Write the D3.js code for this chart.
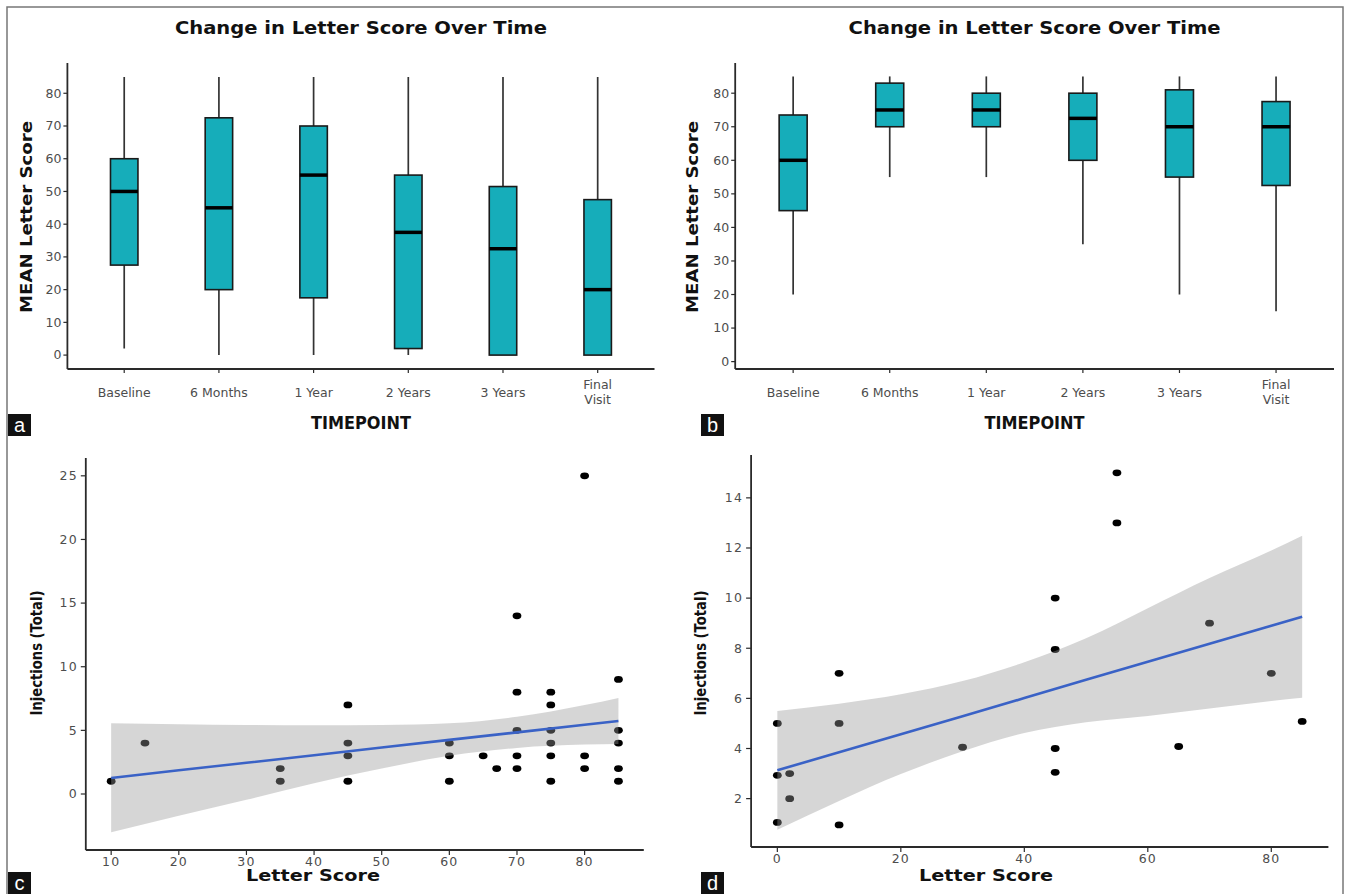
<!DOCTYPE html>
<html>
<head>
<meta charset="utf-8">
<script src="https://cdn.jsdelivr.net/npm/d3@7"></script>
<style>
  body { margin: 0; background: #fff; }
  svg { display: block; }
</style>
</head>
<body>
<div id="chart"></div>
<script>
// ---- data ----
var timepoints = ["Baseline", "6 Months", "1 Year", "2 Years", "3 Years", "Final Visit"];

// panel a
var aMin = [2, 0, 0, 0, 0, 0];
var aQ1  = [27.5, 20, 17.5, 2, 0, 0];
var aMed = [50, 45, 55, 37.5, 32.5, 20];
var aQ3  = [60, 72.5, 70, 55, 51.5, 47.5];
var aMax = [85, 85, 85, 85, 85, 85];

// panel b
var bMin = [20, 55, 55, 35, 20, 15];
var bQ1  = [45, 70, 70, 60, 55, 52.5];
var bMed = [60, 75, 75, 72.5, 70, 70];
var bQ3  = [73.5, 83, 80, 80, 81, 77.5];
var bMax = [85, 85, 85, 85, 85, 85];

// panel c
var cScore = [10, 15, 35, 35, 45, 45, 45, 45, 60, 60, 60, 65, 67, 70, 70, 70, 70, 70,
              75, 75, 75, 75, 75, 75, 80, 80, 80, 85, 85, 85, 85, 85];
var cInj   = [1, 4, 2, 1, 7, 4, 3, 1, 4, 3, 1, 3, 2, 14, 8, 5, 3, 2,
              8, 7, 5, 4, 3, 1, 25, 3, 2, 9, 5, 4, 2, 1];
var cFitX  = [10, 20, 30, 40, 50, 60, 70, 80, 85];
var cFit   = [1.26, 1.86, 2.45, 3.05, 3.65, 4.25, 4.84, 5.44, 5.74];
var cLo    = [-3.0, -1.7, -0.45, 0.85, 2.0, 3.0, 3.62, 3.88, 3.93];
var cHi    = [5.55, 5.48, 5.42, 5.4, 5.42, 5.55, 6.06, 6.99, 7.55];

// panel d
var dScore = [0, 0, 0, 2, 2, 10, 10, 10, 30, 45, 45, 45, 45, 55, 55, 65, 70, 80, 85];
var dInj   = [5, 2.93, 1.05, 3, 2, 7, 5, 0.95, 4.05, 10, 7.95, 4, 3.05, 15, 13, 4.08, 9, 7, 5.08];
var dFitX  = [0, 10, 20, 30, 40, 50, 60, 70, 80, 85];
var dFit   = [3.13, 3.85, 4.57, 5.29, 6.01, 6.74, 7.46, 8.18, 8.90, 9.26];
var dLo    = [0.76, 1.91, 2.98, 3.89, 4.62, 5.05, 5.3, 5.6, 5.9, 6.02];
var dHi    = [5.50, 5.79, 6.16, 6.69, 7.44, 8.40, 9.6, 10.8, 11.9, 12.49];

var W = 1346, H = 894;
var svg = d3.select("#chart").append("svg").attr("width", W).attr("height", H);
svg.append("rect").attr("width", W).attr("height", H).attr("fill", "#fff");

// outer frame
svg.append("rect").attr("x", 7).attr("y", 7).attr("width", 1336).attr("height", 900)
  .attr("fill", "none").attr("stroke", "#777").attr("stroke-width", 1.5);

var tickCol = "#4d4d4d";
var axisCol = "#2a2a2a";

function panelLetter(x, y, s) {
  svg.append("rect").attr("x", x).attr("y", y).attr("width", 23).attr("height", 22).attr("fill", "#111");
  svg.append("text").attr("x", x + 11.5).attr("y", y + 11).attr("dy", "0.36em")
    .attr("text-anchor", "middle").attr("fill", "#fff")
    .style("font-family", "Liberation Sans, Arial, sans-serif").style("font-size", "20px").text(s);
}

function boldText(x, y, s, size, len, rotate) {
  var t = svg.append("text")
    .attr("text-anchor", "middle").attr("dy", "0.35em")
    .attr("textLength", len).attr("lengthAdjust", "spacingAndGlyphs")
    .style("font-family", "DejaVu Sans, sans-serif").style("font-weight", "bold")
    .style("font-size", size + "px").attr("fill", "#111").text(s);
  if (rotate) t.attr("transform", "translate(" + x + "," + y + ") rotate(-90)");
  else t.attr("x", x).attr("y", y);
}

function axes(g, x, y, x0, x1, y0, y1) {
  g.append("line").attr("x1", x0).attr("x2", x1).attr("y1", y0).attr("y2", y0)
    .attr("stroke", axisCol).attr("stroke-width", 1.8);
  g.append("line").attr("x1", x0).attr("x2", x0).attr("y1", y0).attr("y2", y1)
    .attr("stroke", axisCol).attr("stroke-width", 1.8);
}

function boxPanel(opt) {
  var g = svg.append("g");
  var x = d3.scalePoint().domain(timepoints).range([opt.x0, opt.x1]).padding(0.6);
  var y = d3.scaleLinear().domain(opt.yDomain).range([opt.y0, opt.y1]);
  var bw = x.step() * 0.29;
  var rows = timepoints.map(function(t, i) {
    return {t: t, min: opt.min[i], q1: opt.q1[i], med: opt.med[i], q3: opt.q3[i], max: opt.max[i]};
  });

  // y axis ticks
  var yt = d3.range(0, 81, 10);
  g.selectAll(".yt").data(yt).enter().append("line")
    .attr("x1", opt.x0 - 4).attr("x2", opt.x0).attr("y1", y).attr("y2", y)
    .attr("stroke", axisCol).attr("stroke-width", 1.2);
  g.selectAll(".yl").data(yt).enter().append("text")
    .attr("x", opt.x0 - 6).attr("y", y).attr("dy", "0.35em").attr("text-anchor", "end")
    .attr("fill", tickCol).style("font-family", "DejaVu Sans, sans-serif").style("font-size", "12.5px")
    .text(function(d) { return d; });

  // x ticks and labels
  g.selectAll(".xt").data(timepoints).enter().append("line")
    .attr("x1", x).attr("x2", x).attr("y1", opt.y0).attr("y2", opt.y0 + 4)
    .attr("stroke", axisCol).attr("stroke-width", 1.2);
  timepoints.forEach(function(t) {
    var words = t === "Final Visit" ? ["Final", "Visit"] : [t];
    words.forEach(function(w, k) {
      var yy = words.length === 1 ? 393 : 385 + k * 15;
      g.append("text").attr("x", x(t)).attr("y", yy).attr("dy", "0.35em").attr("text-anchor", "middle")
        .attr("fill", tickCol).style("font-family", "DejaVu Sans, sans-serif").style("font-size", "12.5px")
        .text(w);
    });
  });

  // whiskers
  g.selectAll(".wh").data(rows).enter().append("line")
    .attr("x1", function(d) { return x(d.t); }).attr("x2", function(d) { return x(d.t); })
    .attr("y1", function(d) { return y(d.min); }).attr("y2", function(d) { return y(d.max); })
    .attr("stroke", "#333").attr("stroke-width", 1.7);
  // boxes
  g.selectAll(".bx").data(rows).enter().append("rect")
    .attr("x", function(d) { return x(d.t) - bw / 2; }).attr("width", bw)
    .attr("y", function(d) { return y(d.q3); })
    .attr("height", function(d) { return y(d.q1) - y(d.q3); })
    .attr("fill", "#16adba").attr("stroke", "#1a1a1a").attr("stroke-width", 1.6);
  g.selectAll(".md").data(rows).enter().append("line")
    .attr("x1", function(d) { return x(d.t) - bw / 2; }).attr("x2", function(d) { return x(d.t) + bw / 2; })
    .attr("y1", function(d) { return y(d.med); }).attr("y2", function(d) { return y(d.med); })
    .attr("stroke", "#000").attr("stroke-width", 3.5);

  axes(g, x, y, opt.x0, opt.x1, opt.y0, opt.y1);

  boldText((opt.x0 + opt.x1) / 2, 28, "Change in Letter Score Over Time", 18, 372);
  boldText((opt.x0 + opt.x1) / 2, 423, "TIMEPOINT", 17, 100);
  boldText(opt.ytx, 217, "MEAN Letter Score", 16, 192, true);
}

function scatterPanel(opt) {
  var g = svg.append("g");
  var x = d3.scaleLinear().domain(opt.xDomain).range([opt.x0, opt.x1]);
  var y = d3.scaleLinear().domain(opt.yDomain).range([opt.y0, opt.y1]);

  // points first, ribbon drawn over them (as in ggplot)
  g.selectAll(".pt").data(opt.xs).enter().append("ellipse")
    .attr("cx", function(d) { return x(d); })
    .attr("cy", function(d, i) { return y(opt.ys[i]); })
    .attr("rx", 4.4).attr("ry", 3.4).attr("fill", "#000");

  var fit = opt.fitX.map(function(v, i) { return {x: v, lo: opt.lo[i], m: opt.fit[i], hi: opt.hi[i]}; });
  g.append("path").datum(fit)
    .attr("d", d3.area().curve(d3.curveMonotoneX)
      .x(function(d) { return x(d.x); })
      .y0(function(d) { return y(d.lo); })
      .y1(function(d) { return y(d.hi); }))
    .attr("fill", "#999").attr("fill-opacity", 0.4);
  g.append("path").datum(fit)
    .attr("d", d3.line().x(function(d) { return x(d.x); }).y(function(d) { return y(d.m); }))
    .attr("fill", "none").attr("stroke", "#3a62c6").attr("stroke-width", 2.6);

  // ticks
  g.selectAll(".yt").data(opt.yTicks).enter().append("line")
    .attr("x1", opt.x0 - 5).attr("x2", opt.x0).attr("y1", y).attr("y2", y)
    .attr("stroke", axisCol).attr("stroke-width", 1.2);
  g.selectAll(".yl").data(opt.yTicks).enter().append("text")
    .attr("x", opt.x0 - 8).attr("y", y).attr("dy", "0.35em").attr("text-anchor", "end")
    .attr("fill", tickCol).style("font-family", "DejaVu Sans, sans-serif").style("font-size", "12.5px")
    .style("letter-spacing", "1.2px")
    .text(function(d) { return d; });
  g.selectAll(".xt").data(opt.xTicks).enter().append("line")
    .attr("x1", x).attr("x2", x).attr("y1", opt.y0).attr("y2", opt.y0 + 5)
    .attr("stroke", axisCol).attr("stroke-width", 1.2);
  g.selectAll(".xl").data(opt.xTicks).enter().append("text")
    .attr("x", x).attr("y", opt.y0 + 12).attr("dy", "0.35em").attr("text-anchor", "middle")
    .attr("fill", tickCol).style("font-family", "DejaVu Sans, sans-serif").style("font-size", "12.5px")
    .style("letter-spacing", "1.2px")
    .text(function(d) { return d; });

  axes(g, x, y, opt.x0, opt.x1, opt.y0, opt.y1);

  boldText(opt.xtx, 876, "Letter Score", 15, 134);
  boldText(opt.ytx, 653, "Injections (Total)", 15, 125, true);
}

boxPanel({x0: 67.4, x1: 654.5, y0: 369, y1: 63, yDomain: [-4.25, 89.25],
  min: aMin, q1: aQ1, med: aMed, q3: aQ3, max: aMax, ytx: 26});
boxPanel({x0: 735.2, x1: 1334, y0: 369, y1: 63, yDomain: [-2.2, 89.0],
  min: bMin, q1: bQ1, med: bMed, q3: bQ3, max: bMax, ytx: 692});

scatterPanel({x0: 85.8, x1: 643.8, y0: 850, y1: 458, xDomain: [6.25, 88.75], yDomain: [-4.4, 26.4],
  xs: cScore, ys: cInj, fitX: cFitX, fit: cFit, lo: cLo, hi: cHi,
  xTicks: [10, 20, 30, 40, 50, 60, 70, 80], yTicks: [0, 5, 10, 15, 20, 25], xtx: 313, ytx: 36.5});
scatterPanel({x0: 751.1, x1: 1328.4, y0: 847, y1: 455, xDomain: [-4.25, 89.25], yDomain: [0.07, 15.71],
  xs: dScore, ys: dInj, fitX: dFitX, fit: dFit, lo: dLo, hi: dHi,
  xTicks: [0, 20, 40, 60, 80], yTicks: [2, 4, 6, 8, 10, 12, 14], xtx: 986, ytx: 701});

panelLetter(8, 414, "a");
panelLetter(701, 414, "b");
panelLetter(8, 872, "c");
panelLetter(701, 872, "d");
</script>
</body>
</html>
